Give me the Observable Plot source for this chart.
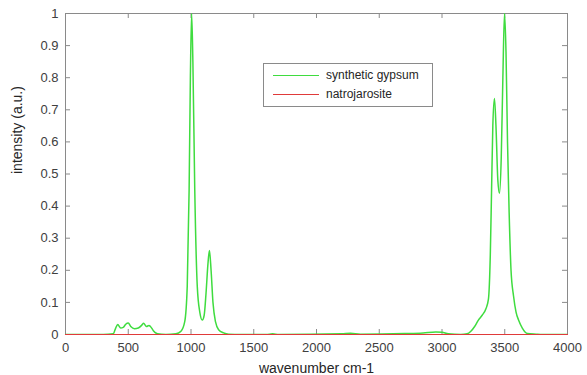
<!DOCTYPE html>
<html>
<head>
<meta charset="utf-8">
<script src="https://cdn.jsdelivr.net/npm/d3@7"></script>
<script src="https://cdn.jsdelivr.net/npm/@observablehq/plot@0.6"></script>
<style>
  html, body { margin: 0; padding: 0; background: #fff; }
  #wrap { position: relative; width: 587px; height: 375px; font-family: "Liberation Sans", Arial, sans-serif; }
  #legend { position: absolute; left: 263px; top: 63px; width: 170px; height: 44px; border: 1px solid #8a8a8a; background: #fff; box-sizing: border-box; font-size: 12px; color: #262626; }
  #legend .row { position: absolute; left: 9px; height: 14px; display: flex; align-items: center; }
  #legend .sw { width: 46px; height: 0; border-top: 1px solid; margin-right: 7px; }
</style>
</head>
<body>
<div id="wrap"></div>
<script>
// Data
const seriesNames = ["synthetic gypsum", "natrojarosite"];
const seriesColors = ["#3fdc3f", "#e03a3a"];
const gypsumWavenumber = [0,300,380,400,416,440,460,480,500,520,550,580,610,622,645,665,677,700,733,800,880,920,950,970,985,995,1005,1015,1030,1050,1070,1090,1105,1120,1135,1147,1160,1175,1195,1220,1260,1300,1400,1600,1650,1700,2200,2270,2350,2700,2850,2950,3000,3050,3150,3200,3230,3260,3290,3320,3350,3370,3385,3395,3405,3418,3430,3445,3458,3472,3485,3498,3510,3522,3535,3550,3570,3590,3610,3640,3681,3750,3800,4000];
const gypsumIntensity = [0,0,0.002,0.02,0.031,0.02,0.022,0.032,0.036,0.025,0.018,0.02,0.03,0.035,0.025,0.028,0.025,0.012,0.002,0,0.002,0.01,0.04,0.15,0.45,0.8,1.0,0.85,0.45,0.15,0.07,0.045,0.06,0.13,0.22,0.262,0.2,0.1,0.04,0.015,0.005,0.001,0,0,0.002,0,0.002,0.004,0.001,0.003,0.005,0.008,0.007,0.002,0,0.002,0.01,0.025,0.045,0.06,0.08,0.11,0.25,0.45,0.65,0.735,0.65,0.48,0.44,0.55,0.8,1.0,0.88,0.6,0.38,0.2,0.12,0.07,0.045,0.02,0.003,0.001,0,0];
const natroWavenumber = [0,1000,2000,3000,4000];
const natroIntensity = [0,0,0,0,0];
const xTicks = [0,500,1000,1500,2000,2500,3000,3500,4000];
const yTicks = [0,0.1,0.2,0.3,0.4,0.5,0.6,0.7,0.8,0.9,1];
const xLabel = "wavenumber cm-1";
const yLabel = "intensity (a.u.)";

const gypsum = gypsumWavenumber.map((x, i) => ({x, y: gypsumIntensity[i]}));
const natro = natroWavenumber.map((x, i) => ({x, y: natroIntensity[i]}));

const W = 587, H = 375, mL = 65, mR = 20, mT = 13, mB = 41;
const innerH = H - mT - mB, innerW = W - mL - mR;
const tk = 5;
const axisColor = "#8a8a8a";

const chart = Plot.plot({
  width: W, height: H,
  marginLeft: mL, marginRight: mR, marginTop: mT, marginBottom: mB,
  style: {fontFamily: "Liberation Sans, Arial, sans-serif", fontSize: "13px", color: "#404040", background: "#fff"},
  x: {domain: [0, 4000], ticks: xTicks, tickFormat: d => String(d), tickSize: 0, tickPadding: 7, label: null},
  y: {domain: [0, 1], ticks: yTicks, tickFormat: d => String(d), tickSize: 0, tickPadding: 7, label: null},
  marks: [
    Plot.frame({stroke: axisColor, strokeWidth: 1}),
    Plot.ruleX(xTicks, {y1: 1, y2: 0, insetTop: innerH - tk, stroke: axisColor}),
    Plot.ruleX(xTicks, {y1: 1, y2: 0, insetBottom: innerH - tk, stroke: axisColor}),
    Plot.ruleY(yTicks, {x1: 0, x2: 4000, insetRight: innerW - tk, stroke: axisColor}),
    Plot.ruleY(yTicks, {x1: 0, x2: 4000, insetLeft: innerW - tk, stroke: axisColor}),
    Plot.lineY(gypsum, {x: "x", y: "y", stroke: seriesColors[0], strokeWidth: 1.5, curve: "monotone-x", clip: true}),
    Plot.lineY(natro, {x: "x", y: "y", stroke: seriesColors[1], strokeWidth: 1.2}),
    Plot.axisX({ticks: xTicks, tickSize: 0, tickPadding: 8, tickFormat: d => String(d), label: null, fontSize: 13}),
    Plot.axisY({ticks: yTicks, tickSize: 0, tickPadding: 7, tickFormat: d => String(d), label: null, fontSize: 13}),
    Plot.text([xLabel], {frameAnchor: "bottom", dy: 34, lineAnchor: "middle", text: d => d, fontSize: 14, fill: "#262626"}),
    Plot.text([yLabel], {frameAnchor: "left", dx: -48, rotate: -90, text: d => d, fontSize: 14, fill: "#262626"})
  ]
});

const wrap = document.getElementById("wrap");
wrap.appendChild(chart);

const legend = document.createElement("div");
legend.id = "legend";
seriesNames.forEach((name, i) => {
  const row = document.createElement("div");
  row.className = "row";
  row.style.top = (4 + i * 19) + "px";
  const sw = document.createElement("span");
  sw.className = "sw";
  sw.style.borderTopColor = seriesColors[i];
  const t = document.createElement("span");
  t.textContent = name;
  row.appendChild(sw); row.appendChild(t);
  legend.appendChild(row);
});
wrap.appendChild(legend);
</script>
</body>
</html>
